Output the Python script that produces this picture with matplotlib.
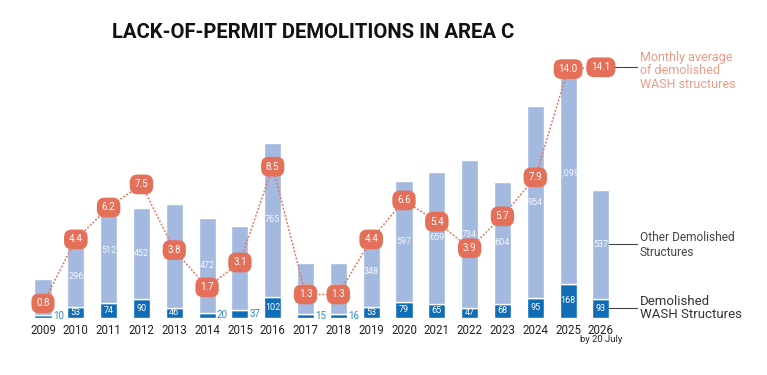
import numpy as np
import matplotlib.pyplot as plt

plt.rcParams['font.family'] = ['Roboto', 'DejaVu Sans']

years = ['2009', '2010', '2011', '2012', '2013', '2014', '2015', '2016', '2017',
         '2018', '2019', '2020', '2021', '2022', '2023', '2024', '2025', '2026']
wash = [10, 53, 74, 90, 46, 20, 37, 102, 15, 16, 53, 79, 65, 47, 68, 95, 168, 93]
other = [183, 296, 512, 452, 518, 472, 418, 765, 253, 254, 348, 597, 659, 734, 604, 954, 1099, 537]
monthly_avg = [0.8, 4.4, 6.2, 7.5, 3.8, 1.7, 3.1, 8.5, 1.3, 1.3, 4.4, 6.6, 5.4, 3.9, 5.7, 7.9, 14.0, 14.1]

c_light = '#a3b9df'
c_dark = '#0f6cb6'
c_orange = '#e5705a'
c_orange_txt = '#f09a86'
c_grey = '#444444'

fig = plt.figure(figsize=(7.67, 3.75), dpi=100)
W, H = 767, 375
left, right, bottom, top = 23.3, 620.6, 317.5, 58
ax = fig.add_axes([left / W, (H - bottom) / H, (right - left) / W, (bottom - top) / H])
x = np.arange(len(years))
ax.bar(x, wash, width=0.52, color=c_dark, edgecolor='white', linewidth=1)
ax.bar(x, other, bottom=wash, width=0.52, color=c_light, edgecolor='white', linewidth=1)
ax.set_xlim(-0.6, 17.6)
ax.set_ylim(0, 1287)
ax.axis('off')

for i in range(len(years)):
    if wash[i] < 40:
        ax.text(x[i] + 0.3, wash[i] / 2, str(wash[i]), color='#2f86c9', fontsize=7,
                ha='left', va='center')
    else:
        ax.text(x[i], wash[i] / 2, str(wash[i]), color='white', fontsize=6.5,
                ha='center', va='center')
    lab = '{:,}'.format(other[i])
    ax.text(x[i], wash[i] + other[i] / 2, lab, color='white', fontsize=6.5,
            ha='center', va='center', alpha=0.9)
    ax.text(x[i], -30, years[i], color='#222222', fontsize=8.3, ha='center', va='top')
ax.text(x[-1], -88, 'by 20 July', color='#222222', fontsize=6.8, ha='center', va='top')

ax2 = ax.twinx()
ax2.set_ylim(0, 1287 / 88.0)
ax2.axis('off')
ax2.plot(x, monthly_avg, color=c_orange, linestyle=(0, (1.2, 1.2)), linewidth=1.1, zorder=3)
for i, v in enumerate(monthly_avg):
    ax2.text(x[i], v, '{:.1f}'.format(v), color='white', fontsize=7, ha='center', va='center',
             zorder=5, bbox=dict(boxstyle='round,pad=0.5,rounding_size=0.8', fc=c_orange, ec='none'))

fig.text(112 / W, 1 - 33 / H, 'LACK-OF-PERMIT DEMOLITIONS IN AREA C', fontsize=14.6,
         fontweight='bold', color='#111111', ha='left', va='center')

# right-hand labels with leader lines
fig.add_artist(plt.Line2D([615 / W, 637 / W], [1 - 67 / H, 1 - 67 / H], color=c_grey, lw=0.8))
fig.text(640 / W, 1 - 71 / H, 'Monthly average\nof demolished\nWASH structures', fontsize=9,
         color=c_orange_txt, ha='left', va='center', linespacing=1.05)
fig.add_artist(plt.Line2D([609 / W, 637 / W], [1 - 244 / H, 1 - 244 / H], color=c_grey, lw=0.8))
fig.text(640 / W, 1 - 245 / H, 'Other Demolished\nStructures', fontsize=8.6,
         color=c_grey, ha='left', va='center', linespacing=1.15)
fig.add_artist(plt.Line2D([609 / W, 637 / W], [1 - 308 / H, 1 - 308 / H], color=c_grey, lw=0.8))
fig.text(640 / W, 1 - 308 / H, 'Demolished\nWASH Structures', fontsize=9.5,
         color='#333333', ha='left', va='center', linespacing=1.05)

fig.savefig('out.png', dpi=100)
